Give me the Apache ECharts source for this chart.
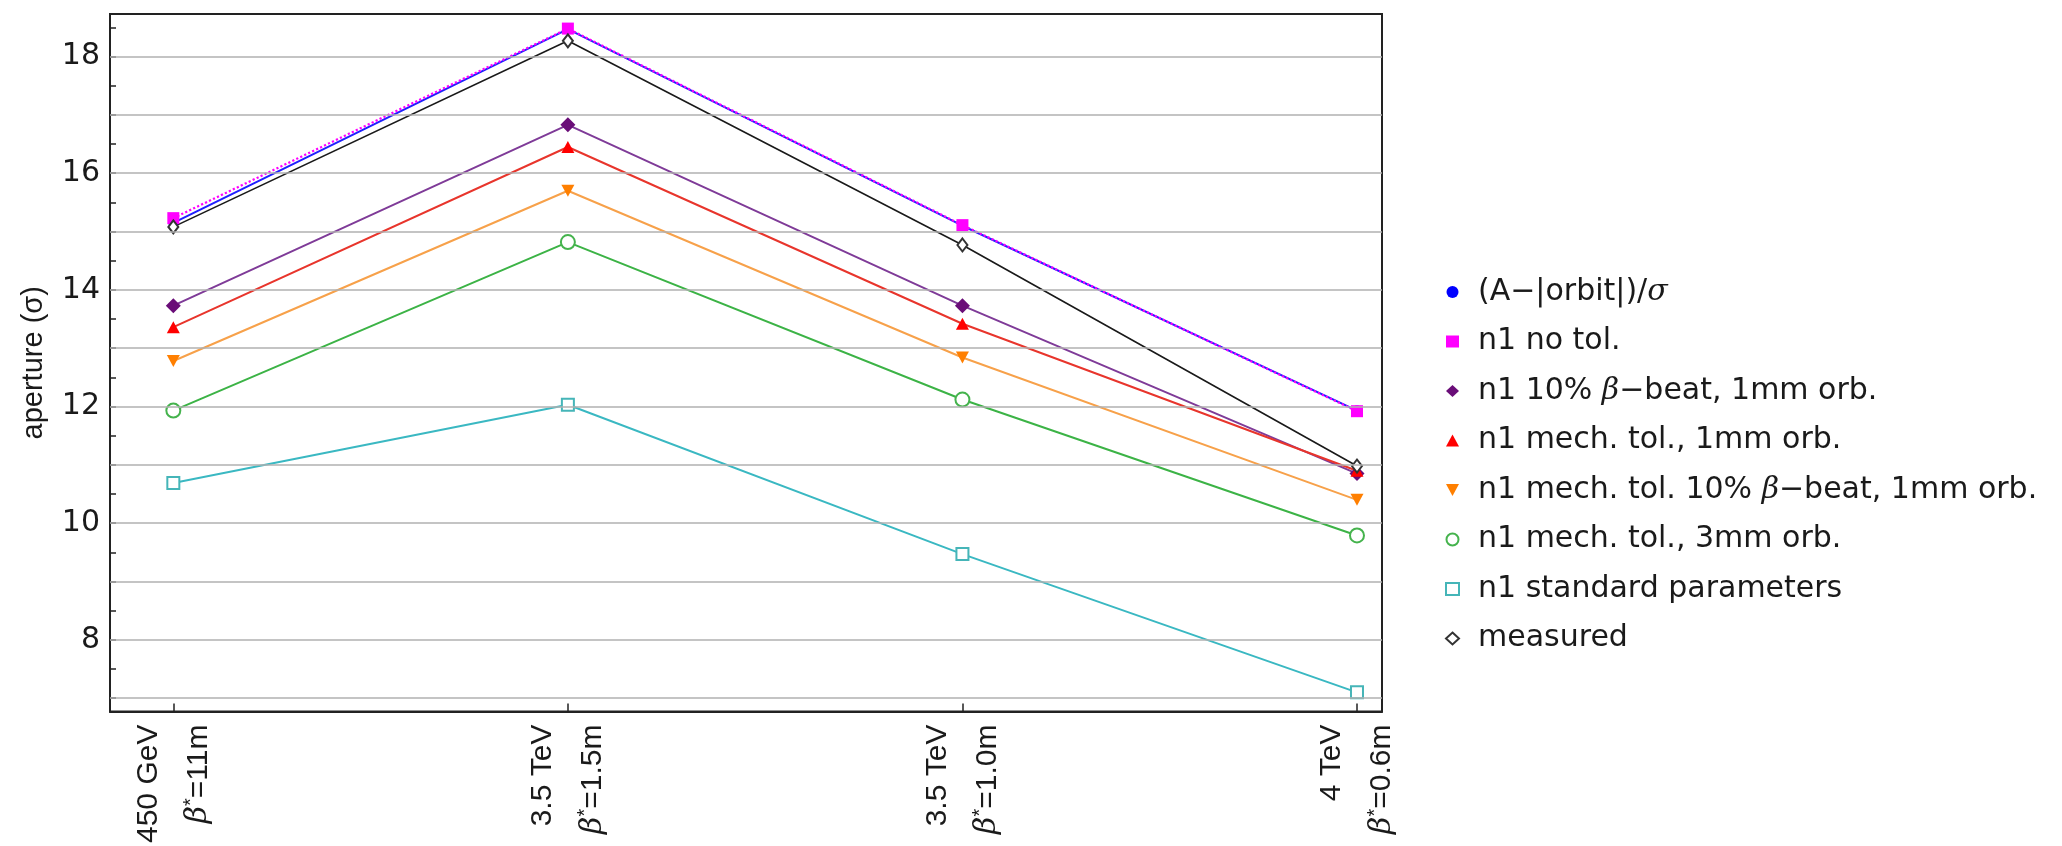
<!DOCTYPE html>
<html>
<head>
<meta charset="utf-8">
<script src="https://cdn.jsdelivr.net/npm/echarts@6/dist/echarts.min.js"></script>
<style>
  html, body { margin: 0; padding: 0; background: #fff; }
  #chart { width: 2062px; height: 846px; }
</style>
</head>
<body>
<div id="chart"></div>
<script>
// ---- data ----
const categories = ['450 GeV', '3.5 TeV', '3.5 TeV', '4 TeV'];
const betaStar = ['11m', '1.5m', '1.0m', '0.6m'];
const xPositions = [0, 1, 2, 3];

const seriesNames = [
  '(A\u2212|orbit|)/σ',
  'n1 no tol.',
  'n1 10% β\u2212beat, 1mm orb.',
  'n1 mech. tol., 1mm orb.',
  'n1 mech. tol. 10% β\u2212beat, 1mm orb.',
  'n1 mech. tol., 3mm orb.',
  'n1 standard parameters',
  'measured'
];

const orbitValues    = [15.15, 18.47, 15.10, 11.93];
const noTolValues    = [15.23, 18.48, 15.11, 11.92];
const betaBeatValues = [13.73, 16.83, 13.73, 10.85];
const mech1mmValues  = [13.36, 16.45, 13.42, 10.90];
const mechBetaValues = [12.78, 15.70, 12.84, 10.40];
const mech3mmValues  = [11.93, 14.82, 12.12, 9.79];
const standardValues = [10.69, 12.03, 9.47, 7.10];
const measuredValues = [15.08, 18.27, 14.77, 10.98];

const yAxisTitle = 'aperture (σ)';
const yLabelValues = [8, 10, 12, 14, 16, 18];
const yTickValues = [7, 7.5, 8, 8.5, 9, 9.5, 10, 10.5, 11, 11.5, 12, 12.5, 13, 13.5, 14, 14.5, 15, 15.5, 16, 16.5, 17, 17.5, 18, 18.5];
const gridValues = [7, 8, 9, 10, 11, 12, 13, 14, 15, 16, 17, 18];

// ---- build ----
function pairs(vals) { return vals.map((v, i) => [xPositions[i], v]); }

const downTri = 'path://M0,0L12,0L6,11Z';

function lineSeries(name, vals, lineColor, symbol, symbolSize, markerColor, opts) {
  opts = opts || {};
  const empty = symbol.indexOf('empty') === 0;
  return {
    name: name,
    type: 'line',
    data: pairs(vals),
    symbol: symbol,
    symbolSize: symbolSize,
    showSymbol: true,
    z: opts.z || 3,
    lineStyle: { color: lineColor, width: opts.width || 2, type: opts.type || 'solid' },
    itemStyle: empty
      ? { color: markerColor, borderColor: markerColor, borderWidth: 1.6 }
      : { color: markerColor, borderWidth: 0 },
    emphasis: { disabled: true }
  };
}

const series = [
  {
    name: '__grid',
    type: 'line',
    data: [],
    z: 0,
    silent: true,
    markLine: {
      silent: true,
      symbol: ['none', 'none'],
      label: { show: false },
      lineStyle: { color: '#b0b0b0', width: 1.5, type: 'solid' },
      data: gridValues.map(v => ({ yAxis: v }))
    }
  },
  lineSeries(seriesNames[0], orbitValues, '#2020ff', 'circle', 10, '#0000ff', { width: 2 }),
  lineSeries(seriesNames[1], noTolValues, '#ff00ff', 'rect', 12, '#ff00ff', { type: 'dotted', width: 2.2 }),
  lineSeries(seriesNames[2], betaBeatValues, '#7f3b98', 'diamond', [15, 15], '#6a0d78'),
  lineSeries(seriesNames[3], mech1mmValues, '#e8352c', 'triangle', [13, 12], '#ff0000'),
  lineSeries(seriesNames[4], mechBetaValues, '#f7a14a', downTri, [13, 12], '#ff7f00'),
  lineSeries(seriesNames[5], mech3mmValues, '#3cb346', 'emptyCircle', 14, '#45b34d'),
  lineSeries(seriesNames[6], standardValues, '#3ab8c2', 'emptyRect', 12, '#45b5b8'),
  lineSeries(seriesNames[7], measuredValues, '#1a1a1a', 'emptyDiamond', [10, 13], '#333333', { width: 1.6 })
];

const legendIcons = ['circle', 'rect', 'diamond', 'triangle', downTri, 'emptyCircle', 'emptyRect', 'emptyDiamond'];

function richify(s) {
  return '{t|' + s.replace(/σ/g, '}{i|σ}{t|').replace(/β/g, '}{i|β}{t|') + '}';
}

const option = {
  animation: false,
  backgroundColor: '#ffffff',
  grid: {
    left: 110, right: 680, top: 14, bottom: 134,
    show: true, borderColor: '#222', borderWidth: 2,
    containLabel: false
  },
  legend: {
    orient: 'vertical',
    left: 1440,
    top: 272,
    itemWidth: 13,
    itemHeight: 12,
    itemGap: 19.5,
    symbolKeepAspect: true,
    selectedMode: false,
    data: seriesNames.map((n, i) => ({ name: n, icon: legendIcons[i] })),
    formatter: function (name) { return richify(name); },
    textStyle: {
      fontFamily: 'DejaVu Sans',
      fontSize: 30,
      lineHeight: 30,
      color: '#1a1a1a',
      padding: [0, 0, 0, 14],
      rich: {
        t: { fontFamily: 'DejaVu Sans', fontSize: 30, lineHeight: 30, color: '#1a1a1a' },
        i: { fontFamily: 'DejaVu Serif', fontStyle: 'italic', fontSize: 30, lineHeight: 30, color: '#1a1a1a' }
      }
    }
  },
  xAxis: {
    type: 'value',
    min: -0.1605,
    max: 3.0634,
    splitLine: { show: false },
    axisLine: { show: true, onZero: false, lineStyle: { color: '#222', width: 2 } },
    axisTick: {
      show: true, inside: true, length: 8,
      customValues: xPositions,
      lineStyle: { color: '#222', width: 1.5 }
    },
    axisLabel: {
      show: true,
      customValues: xPositions,
      rotate: 90,
      margin: 13,
      lineHeight: 50,
      color: '#1a1a1a',
      fontFamily: 'Liberation Sans',
      fontSize: 30,
      formatter: function (v) {
        const i = xPositions.indexOf(v);
        if (i < 0) return '';
        return '{a|' + categories[i] + '}\n{b|β}{s|*}{a|=' + betaStar[i] + '}';
      },
      rich: {
        a: { fontFamily: 'Liberation Sans', fontSize: 30, lineHeight: 50, color: '#1a1a1a' },
        b: { fontFamily: 'DejaVu Serif', fontStyle: 'italic', fontSize: 30, lineHeight: 50, color: '#1a1a1a' },
        s: { fontFamily: 'Liberation Sans', fontSize: 20, lineHeight: 50, padding: [0, 0, 14, 0], color: '#1a1a1a' }
      }
    }
  },
  yAxis: {
    type: 'value',
    min: 6.77,
    max: 18.73,
    name: yAxisTitle,
    nameLocation: 'middle',
    nameRotate: 90,
    nameGap: 62,
    nameTextStyle: {
      fontFamily: 'Liberation Sans',
      fontSize: 29,
      color: '#1a1a1a'
    },
    splitLine: { show: false },
    axisLine: { show: true, onZero: false, lineStyle: { color: '#222', width: 2 } },
    axisTick: {
      show: true, inside: true, length: 6,
      customValues: yTickValues,
      lineStyle: { color: '#222', width: 1.5 }
    },
    axisLabel: {
      show: true,
      customValues: yLabelValues,
      margin: 10,
      color: '#1a1a1a',
      fontFamily: 'DejaVu Sans',
      fontSize: 30
    }
  },
  series: series
};

const chart = echarts.init(document.getElementById('chart'), null, { renderer: 'canvas' });
chart.setOption(option);
</script>
</body>
</html>
